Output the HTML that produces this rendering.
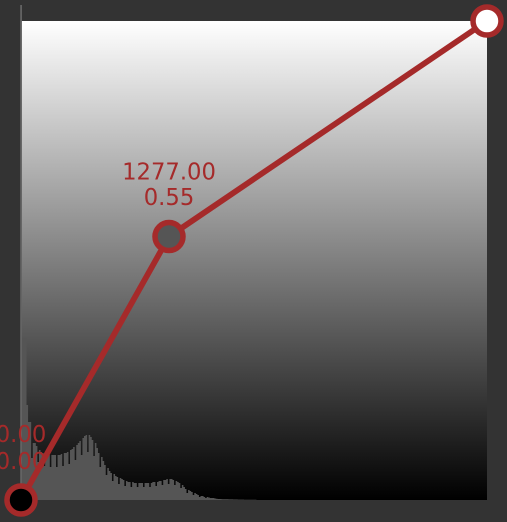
<!DOCTYPE html>
<html>
<head>
<meta charset="utf-8">
<style>
html,body{margin:0;padding:0;background:#333;width:507px;height:522px;overflow:hidden}
svg{display:block}
text{font-family:"DejaVu Sans","Liberation Sans",sans-serif;font-size:22.7px;fill:#a52a2a;text-anchor:middle}
</style>
</head>
<body>
<svg id="chart" width="507" height="522" viewBox="0 0 507 522" xmlns="http://www.w3.org/2000/svg">
<defs>
<linearGradient id="grad" x1="0" y1="0" x2="0" y2="1">
<stop offset="0" stop-color="#fff"/>
<stop offset="1" stop-color="#000"/>
</linearGradient>
</defs>
<rect x="0" y="0" width="507" height="522" fill="#333"/>
<rect x="21" y="21" width="466" height="479" fill="url(#grad)"/>
<g id="hist"></g>
<g id="curve"></g>
</svg>
<script>
const histCounts = [495,162,162,162,95,78,78,42,57,57,54,38,50,48,47,34,46,46,45,33,45,45,45,33,45,45,46,34,47,47,48,36,50,51,53,40,55,57,59,45,62,64,65,48,65,63,60,44,57,52,47,33,43,39,35,25,32,29,27,19,26,24,23,16,22,21,20,14,19,18,18,13,18,17,17,13,17,17,17,13,17,17,17,13,17,18,18,14,18,19,19,15,20,20,21,16,21,21,20,15,19,18,17,12,15,13,11,7,10,9,8,5,7,6,5,3,4,4,3,2,3,2.5,2,2,2,1.5,1.2,1,1,0.9,0.8,0.8,0.7,0.7,0.6,0.6,0.6,0.5,0.5,0.5,0.4,0.4,0.4,0.4,0.3,0.3,0.3,0.3,0.2,0.2,0.2,0.2];
const curveInputs = [0, 1277, 4021];
const curveOutputs = [0, 0.55, 1];
const pointFills = ["#000", "#555", "#fff"];
const labelledPoints = [true, true, false];

const svgNS = "http://www.w3.org/2000/svg";
const plotLeft = 21, plotWidth = 466, plotBottom = 500, plotHeight = 479;
const binWidth = plotWidth / 300;
const histMax = 479;
const inputMax = 4021;

function xScale(v) { return plotLeft + (v / inputMax) * plotWidth; }
function yScale(v) { return plotBottom - v * plotHeight; }
function histY(c) { return plotBottom - (c / histMax) * plotHeight; }
function binX(i) { return plotLeft - 0.7 + i * binWidth; }

let histD = "M" + binX(0) + " " + plotBottom;
histCounts.forEach(function (c, i) {
  histD += "L" + binX(i) + " " + histY(c) + "L" + binX(i + 1) + " " + histY(c);
});
histD += "L" + binX(histCounts.length) + " " + plotBottom + "Z";

const histGroup = document.getElementById("hist");
const histPath = document.createElementNS(svgNS, "path");


histPath.setAttribute("d", histD);
histPath.setAttribute("fill", "#555");
histGroup.appendChild(histPath);

const spike = document.createElementNS(svgNS, "rect");


spike.setAttribute("x", binX(0));
spike.setAttribute("y", histY(histCounts[0]));
spike.setAttribute("width", binWidth);
spike.setAttribute("height", plotBottom - histY(histCounts[0]));
spike.setAttribute("fill", "#666");
histGroup.appendChild(spike);

const curveGroup = document.getElementById("curve");

curveInputs.forEach(function (v, i) {
  if (!labelledPoints[i]) return;
  const cx = xScale(v);
  const cy = yScale(curveOutputs[i]);
  const t1 = document.createElementNS(svgNS, "text");
  
  
  t1.setAttribute("x", cx);
  t1.setAttribute("y", cy - (i === 0 ? 58 : 57));
  t1.textContent = v.toFixed(2);
  curveGroup.appendChild(t1);
  const t2 = document.createElementNS(svgNS, "text");
  
  
  t2.setAttribute("x", cx);
  t2.setAttribute("y", cy - (i === 0 ? 31 : 31.5));
  t2.textContent = curveOutputs[i].toFixed(2);
  curveGroup.appendChild(t2);
});

const line = document.createElementNS(svgNS, "polyline");


line.setAttribute("points", curveInputs.map(function (v, i) {
  return xScale(v) + "," + yScale(curveOutputs[i]);
}).join(" "));
line.setAttribute("fill", "none");
line.setAttribute("stroke", "#a52a2a");
line.setAttribute("stroke-width", "5.8");
curveGroup.appendChild(line);

curveInputs.forEach(function (v, i) {
  const c = document.createElementNS(svgNS, "circle");
  
  
  c.setAttribute("cx", xScale(v));
  c.setAttribute("cy", yScale(curveOutputs[i]));
  c.setAttribute("r", "14");
  c.setAttribute("fill", pointFills[i]);
  c.setAttribute("stroke", "#a52a2a");
  c.setAttribute("stroke-width", "5.5");
  curveGroup.appendChild(c);
});
</script>
</body>
</html>
